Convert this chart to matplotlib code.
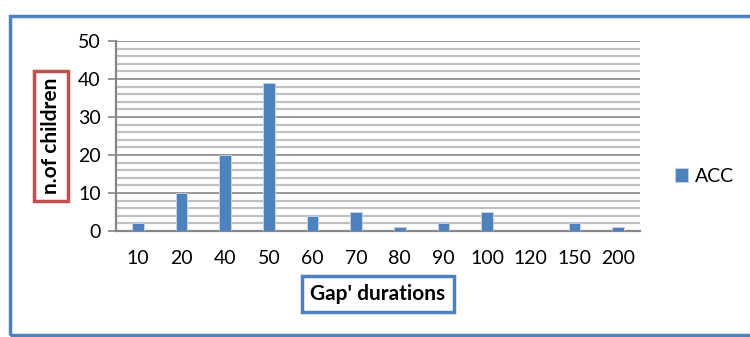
import matplotlib.pyplot as plt
import matplotlib.patches as mpatches
import numpy as np

# data
durations = ["10", "20", "40", "50", "60", "70", "80", "90", "100", "120", "150", "200"]
acc = [2, 10, 20, 39, 4, 5, 1, 2, 5, 0, 2, 1]

blue = "#4F81BD"
red = "#C0504D"

plt.rcParams["font.family"] = ["Lato", "DejaVu Sans"]

fig = plt.figure(figsize=(7.5, 3.37), dpi=100)

# outer chart border
fig.patches.append(mpatches.Rectangle((10 / 750, 2 / 337), 1.0, 1 - 17.5 / 337,
                                      transform=fig.transFigure, fill=False,
                                      edgecolor=blue, linewidth=2.5, clip_on=False))

ax = fig.add_axes([116 / 750, 1 - 231 / 337, 524 / 750, 190 / 337])

x = np.arange(len(durations))
ax.bar(x, acc, width=0.26, color=blue, edgecolor="#C6D4EA", linewidth=0.6,
       label="ACC", zorder=3)

ax.set_xlim(-0.5, len(durations) - 0.5)
ax.set_ylim(0, 50)
ax.set_yticks(range(0, 51, 10))
ax.set_yticks(range(0, 51, 2), minor=True)
ax.grid(axis="y", which="minor", color="#C0C0C0", linewidth=1.6, zorder=0)
ax.grid(axis="y", which="major", color="#868686", linewidth=1.2, zorder=1)
ax.tick_params(axis="y", which="minor", length=0)
ax.tick_params(axis="y", which="major", length=6, color="#868686", width=1.2,
               labelsize=14, pad=5)
ax.set_xticks(x)
ax.set_xticklabels(durations)
ax.tick_params(axis="x", length=0, labelsize=14, pad=14)

for s in ["top", "right"]:
    ax.spines[s].set_visible(False)
for s in ["left", "bottom"]:
    ax.spines[s].set_color("#868686")
    ax.spines[s].set_linewidth(1.6)

# axis titles in framed boxes
fig.text(51 / 750, 1 - 136 / 337, "n.of children", rotation=90, ha="center", va="center",
         fontsize=15, fontweight="bold",
         bbox=dict(boxstyle="square,pad=0.35", facecolor="white", edgecolor=red, linewidth=2.5))
fig.text(378 / 750, 1 - 294 / 337, "Gap' durations", ha="center", va="center",
         fontsize=15, fontweight="bold",
         bbox=dict(boxstyle="square,pad=0.4", facecolor="white", edgecolor=blue, linewidth=2.5))

ax.legend(loc="center left", bbox_to_anchor=(657 / 750, 1 - 176 / 337),
          bbox_transform=fig.transFigure, frameon=False, fontsize=14,
          handlelength=0.7, handleheight=0.7, handletextpad=0.35)

fig.savefig("out.png", dpi=100)
